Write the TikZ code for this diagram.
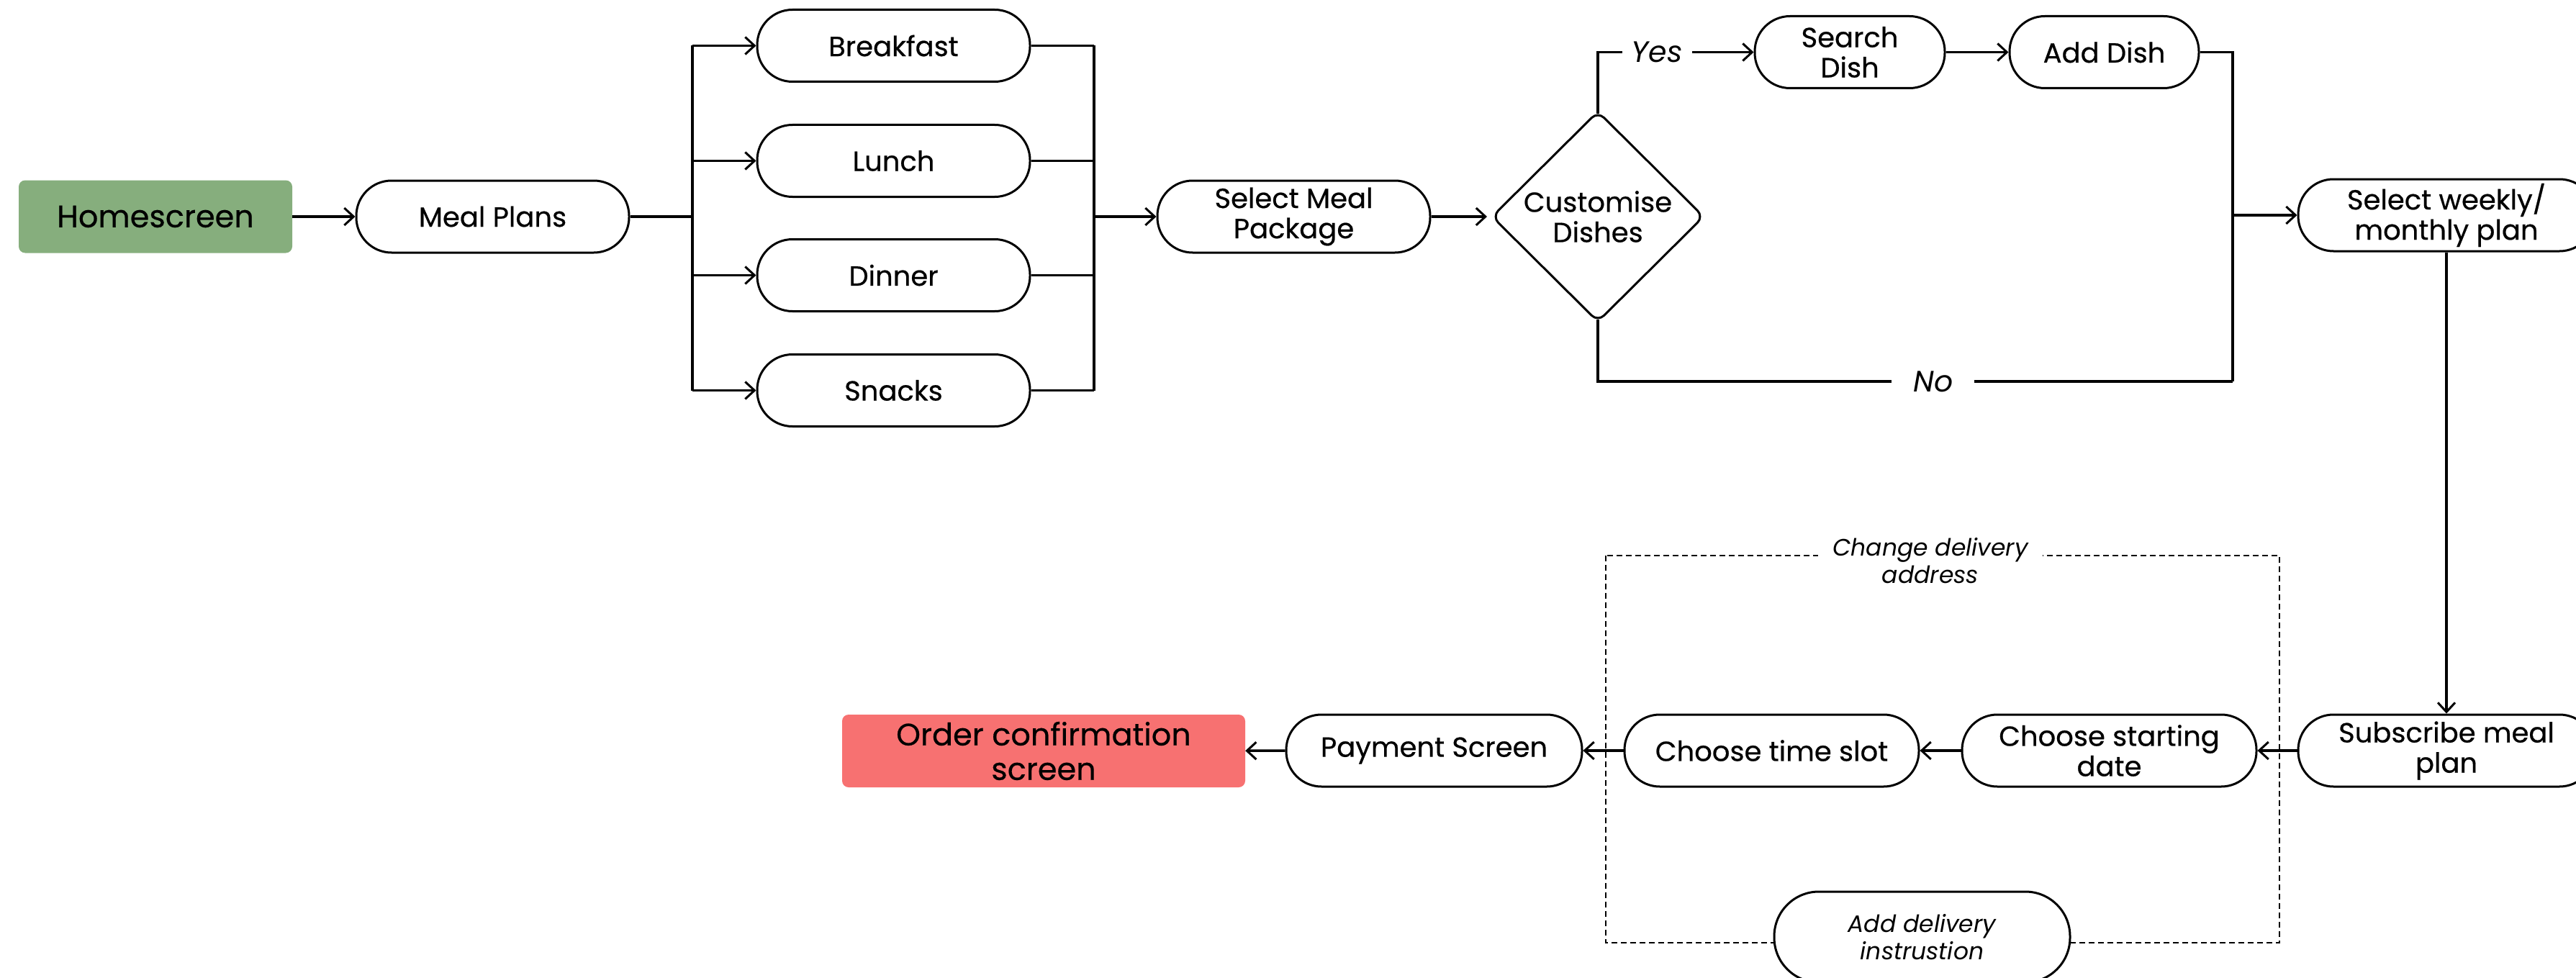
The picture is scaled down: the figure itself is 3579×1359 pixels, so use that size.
\documentclass[tikz,border=0pt]{standalone}
\usepackage{fontspec}
\setmainfont{Poppins}
\newfontfamily\medf[FakeBold=0.5]{Poppins}
\usetikzlibrary{arrows.meta,shapes.geometric}
\definecolor{hgreen}{RGB}{134,174,125}
\definecolor{ored}{RGB}{247,113,113}
\newcommand\nfs{\medf\fontsize{38.5}{42}\selectfont}
\newcommand\bfs{\medf\fontsize{43}{48}\selectfont}
\newcommand\ifs{\fontsize{33}{38}\selectfont\itshape}
\newcommand\yfs{\fontsize{41}{46}\selectfont\itshape}
\begin{document}
\begin{tikzpicture}[x=1pt,y=-1pt,
 pill/.style={draw, line width=3pt, rounded corners=49pt, minimum height=100pt, minimum width=#1, inner sep=0pt, align=center, font=\nfs},
 pill/.default=379pt,
 colbox/.style={fill=#1, rounded corners=9pt, minimum height=101pt, inner sep=0pt, align=center, font=\bfs},
 conn/.style={line width=3.5pt},
 arr/.style={conn, -{Straight Barb[length=13pt,width=24pt,line width=3pt]}},
 lbl/.style={fill=white, inner ysep=2pt, font=\yfs}
]
\useasboundingbox (0,0) rectangle (3579,1359);
\clip (0,0) rectangle (3579,1359);

% dashed group
\draw[line width=2.5pt, dash pattern=on 8pt off 5pt] (2231,772) rectangle (3167,1310);

\node[colbox=hgreen, minimum width=380pt] (home) at (216,301) {Homescreen};
\node[pill] (mp) at (684.5,301) {Meal Plans};
\node[pill] (bf) at (1241.5,63.5) {Breakfast};
\node[pill] (lu) at (1241.5,223.5) {Lunch};
\node[pill] (di) at (1241.5,382.5) {Dinner};
\node[pill] (sn) at (1241.5,542.5) {Snacks};
\node[pill] (smp) at (1797.5,301) {Select Meal\\Package};
\node[draw, diamond, line width=3pt, rounded corners=12pt, minimum width=295pt, minimum height=293pt, inner sep=0pt, align=center, font=\nfs] (cd) at (2220,301) {Customise\\Dishes};
\node[pill=264pt] (sd) at (2570,72.5) {Search\\Dish};
\node[pill=263pt] (ad) at (2923.5,72.5) {Add Dish};
\node[pill=412pt] (sw) at (3399,299) {Select weekly/\\monthly plan};
\node[pill=412pt] (sub) at (3399,1043) {Subscribe meal\\plan};
\node[pill=409pt] (csd) at (2930.5,1043) {Choose starting\\date};
\node[pill=409pt] (cts) at (2461.5,1043) {Choose time slot};
\node[pill=411pt] (pay) at (1992.5,1043) {Payment Screen};
\node[colbox=ored, minimum width=560pt] (ocs) at (1450,1043.5) {Order confirmation\\screen};

\node[fill=white, inner xsep=20pt, inner ysep=0pt, align=center, font=\ifs] (cda) at (2682,779) {Change delivery\\address};
\node[pill=411pt, minimum height=126pt, rounded corners=62pt, fill=white, font=\ifs] (adi) at (2670.5,1302) {Add delivery\\instrustion};

% connectors
\draw[arr] (home) -- (mp);
\coordinate (tl) at (962,301);
\draw[conn] (mp.east) -- (tl);
\draw[conn] (tl |- bf.west) -- (tl |- sn.west);
\foreach \n in {bf,lu,di,sn} \draw[arr] (tl |- \n.west) -- (\n.west);
\coordinate (tr) at (1520,301);
\foreach \n in {bf,lu,di,sn} \draw[conn] (\n.east) -- (tr |- \n.east);
\draw[conn] (tr |- bf.east) -- (tr |- sn.east);
\draw[arr] (tr) -- (smp.west);
\draw[arr, shorten >=5pt] (smp.east) -- (cd.west);
\draw[arr, shorten <=-5pt] (cd.north) |- node[lbl, pos=0.69, inner xsep=13pt]{Yes} (sd.west);
\draw[arr] (sd) -- (ad);
\coordinate (rj) at (3102,530);
\draw[conn] (ad.east) -| (rj);
\draw[conn, shorten <=-5pt] (cd.south) |- node[lbl, pos=0.764, inner xsep=30pt]{No} (rj);
\draw[arr] (rj |- sw.west) -- (sw.west);
\draw[arr] (sw.south) -- (sub.north);
\draw[arr] (sub) -- (csd);
\draw[arr] (csd) -- (cts);
\draw[arr] (cts) -- (pay);
\draw[arr] (pay) -- (ocs);
\end{tikzpicture}
\end{document}
